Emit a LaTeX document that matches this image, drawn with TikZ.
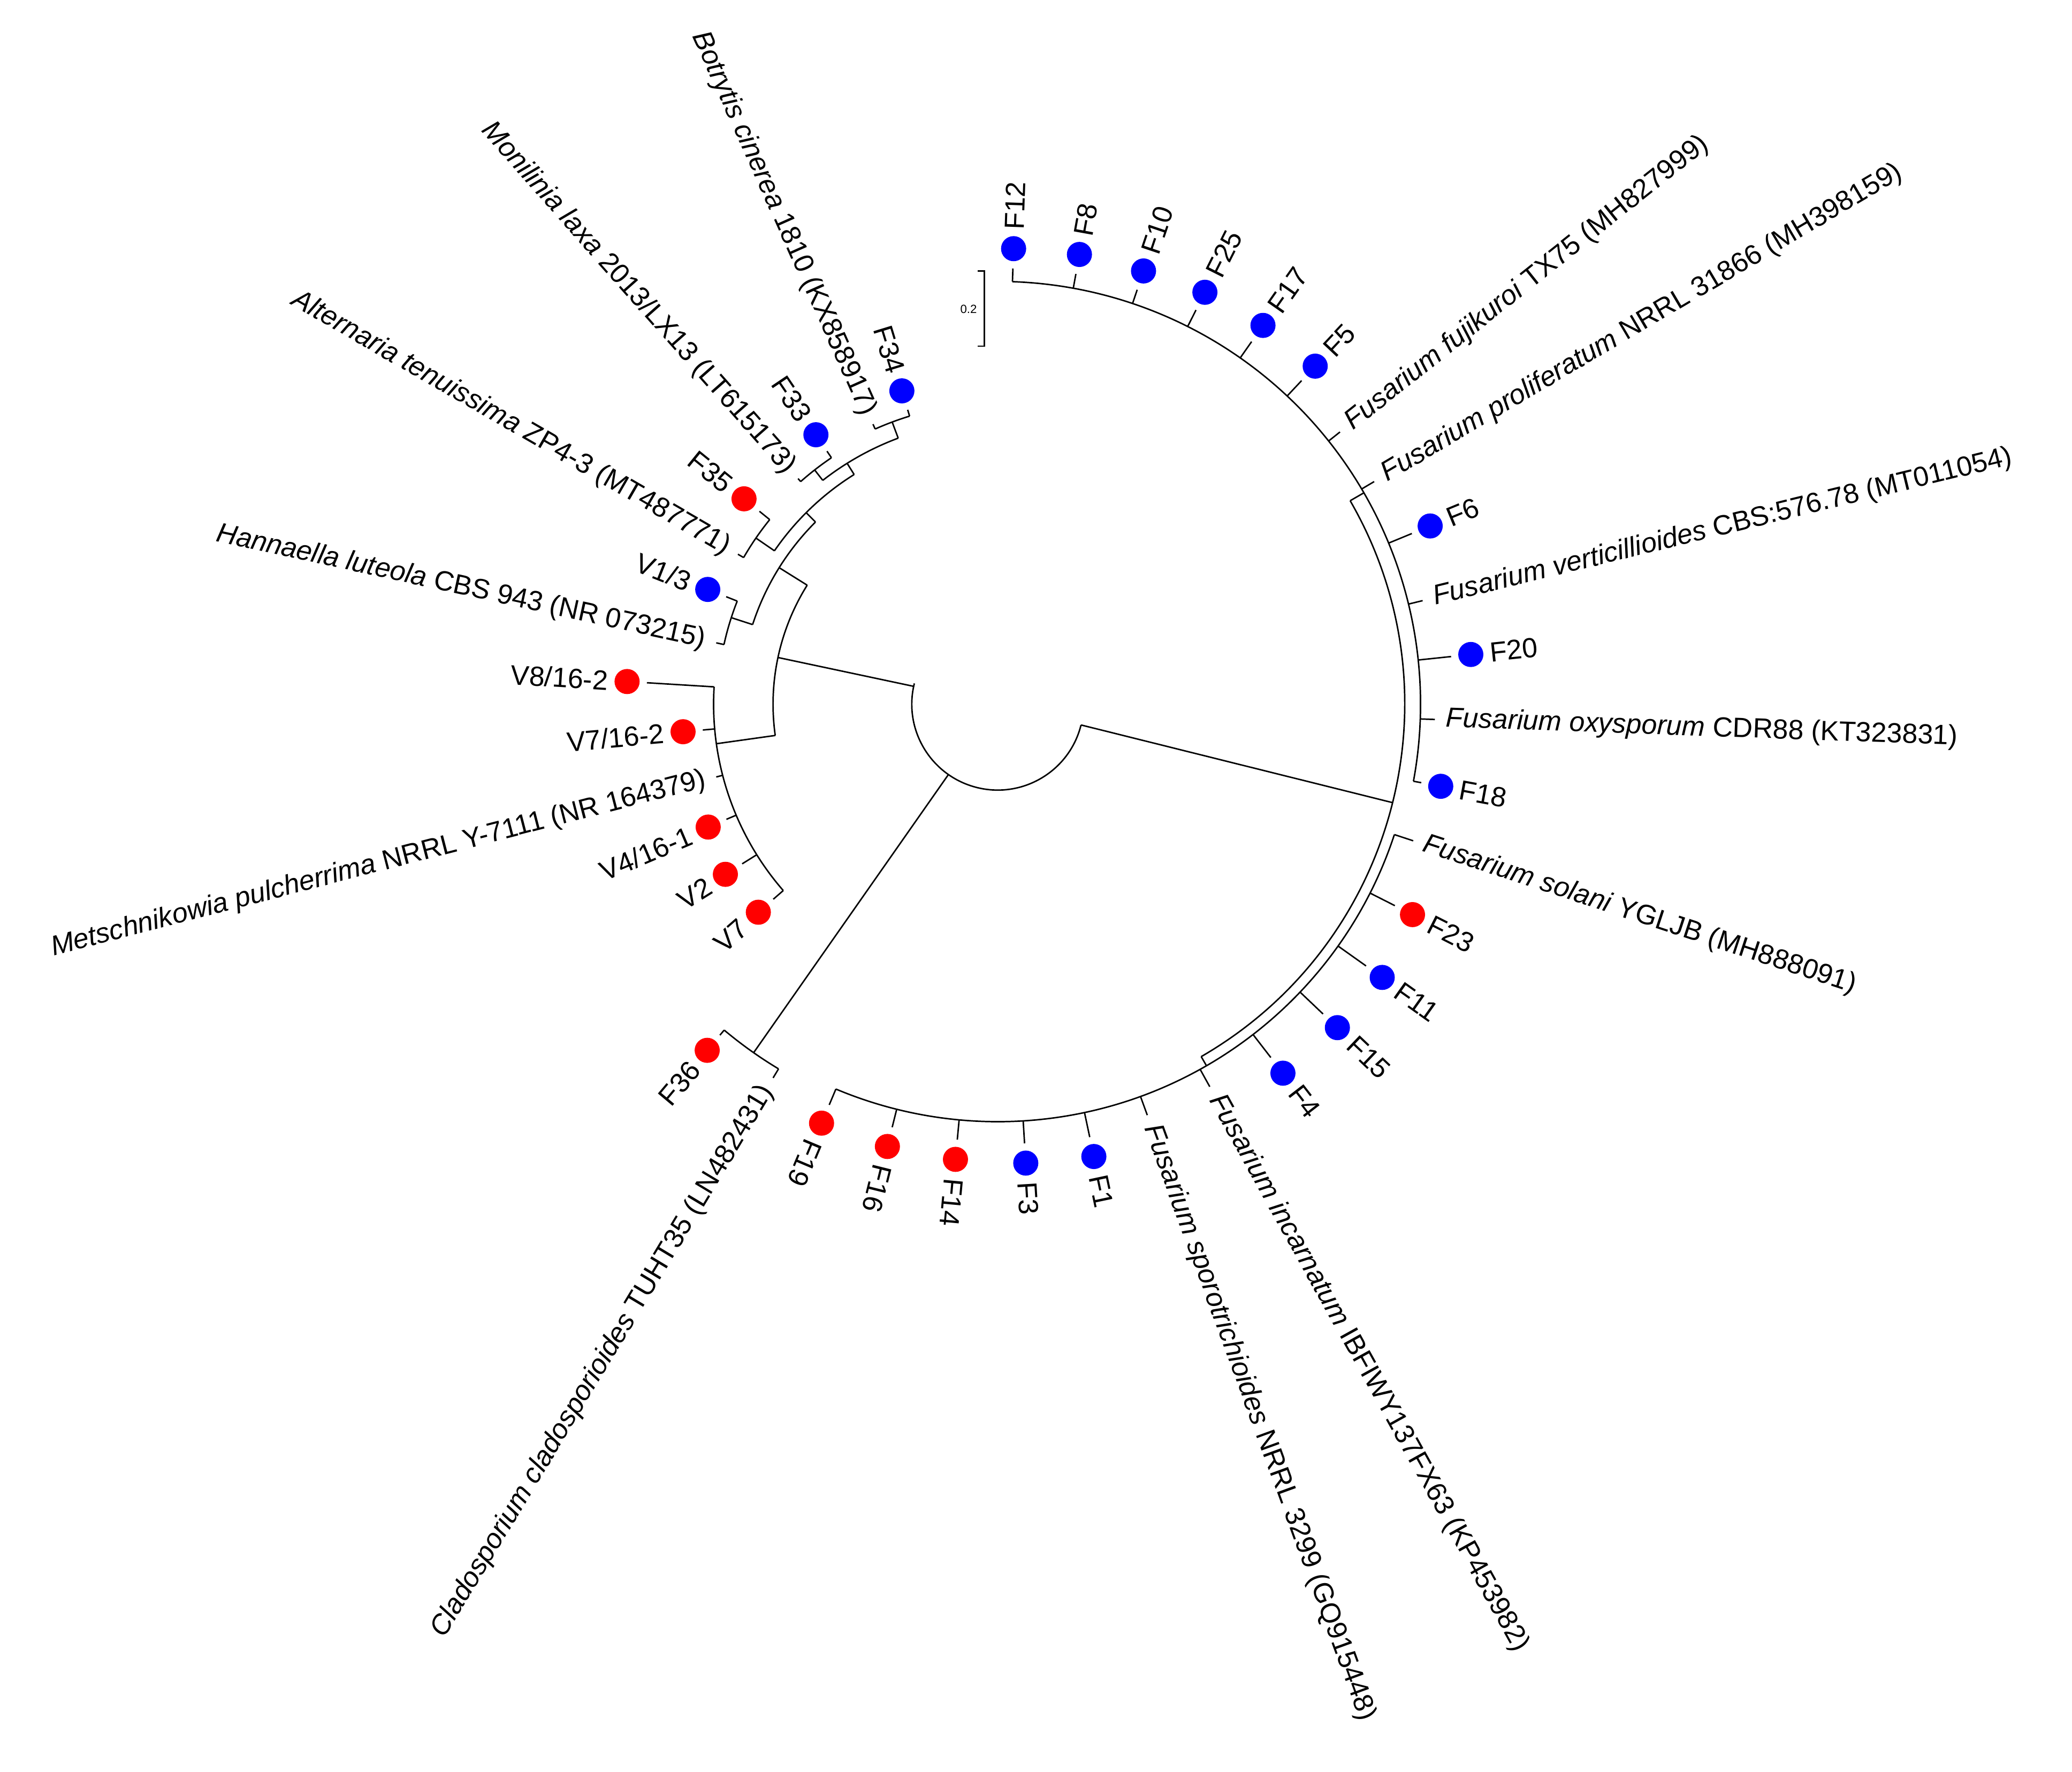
\documentclass[tikz,border=0pt]{standalone}
\usepackage{fontspec}
\setmainfont{Liberation Sans}
\newcommand\br[3]{\draw (#1:#2) -- (#1:#3);}
\newcommand\ar[3]{\draw (#1:#3) arc[start angle=#1, end angle=#2, radius=#3];}
\tikzset{
  dotnode/.style={circle,inner sep=0pt,minimum size=19pt},
  lab/.style={font=\fontsize{21}{25}\selectfont,inner sep=2pt},
}
\begin{document}
\begin{tikzpicture}[x=1pt,y=-1pt,line width=1.1pt]
\useasboundingbox (0,0) rectangle (1568,1341);
\fill[white] (0,0) rectangle (1568,1341);
% scale bar
\draw (740,205) -- (745,205) -- (745,262) -- (740,262);
\node[font=\fontsize{9}{10}\selectfont] (sb) at (733,234) {0.2};
\begin{scope}[shift={(755,533)}]
% root
\ar{194}{14}{65}
% Fusarium clade
\br{14}{65}{308}
\ar{-30}{60}{308}
\br{-30}{308}{320}
\ar{-88}{10.5}{320}
\foreach \a/\r in {-88/330,-79.7/331,-71.4/331,-63.3/334,-55/335,-46.8/336,-38.5/331,-30.6/331,-22.4/339,-13.7/331,-6/345,2/331,10.5/326}{\br{\a}{320}{\r}}
\br{60}{308}{316}
\ar{18.2}{112.8}{316}
\foreach \a/\r in {18.2/331,26.9/337,35.4/342,43.6/340,52.3/338,61/331,70/331,78/335,86.5/333,95.3/331,104/330,112.8/329}{\br{\a}{316}{\r}}
% Cladosporium
\br{125}{65}{322}
\ar{121}{130}{322}
\br{121}{322}{330}
\br{130}{322}{327}
% left group
\br{192}{65}{170}
\ar{172}{212}{170}
\br{172}{170}{215}
\ar{139}{183.5}{215}
\foreach \a/\r in {139/225,148/228,157/223,165.5/220,175/224,183.5/266}{\br{\a}{215}{\r}}
\br{212}{170}{195}
\ar{198}{225}{195}
\br{198}{195}{212}
\ar{192.3}{201.6}{212}
\br{192.3}{212}{218}
\br{201.6}{212}{221}
\br{225}{195}{205}
\ar{214.5}{238}{205}
\br{214.5}{205}{222}
\ar{210}{219}{222}
\br{210}{222}{227}
\br{219}{222}{232}
\br{238}{205}{215}
\ar{232}{249.5}{215}
\br{232}{215}{225}
\ar{228.5}{236}{225}
\br{228.5}{225}{228}
\br{236}{225}{231}
\br{249.5}{215}{228}
\ar{246}{253}{228}
\br{246}{228}{232}
\br{253}{228}{233}
% dots, right-reading labels
\foreach \a/\r/\c/\n in {-88/345/blue/F12,-79.7/346/blue/F8,-71.4/346/blue/F10,-63.3/349/blue/F25,-55/350/blue/F17,-46.8/351/blue/F5,-22.4/354/blue/F6,-6/360/blue/F20,10.5/341/blue/F18,26.9/352/red/F23,35.4/357/blue/F11,43.6/355/blue/F15,52.3/353/blue/F4,78/350/blue/F1,86.5/348/blue/F3,95.3/346/red/F14,104/345/red/F16,112.8/344/red/F19}{
  \node[dotnode,fill=\c] (d\n) at (\a:\r) {};
  \pgfmathsetmacro\rr{\r+12}
  \pgfmathsetmacro\rot{-\a}
  \node[lab,anchor=west,rotate=\rot] (t\n) at (\a:\rr) {\n};
}
% dots, flipped labels
\foreach \a/\r/\c/\n in {130/342/red/{F36},139/240/red/{V7},148/243/red/{V2},157/238/red/{V4/16-1},175/239/red/{V7/16-2},183.5/281/red/{V8/16-2},201.6/236/blue/{V1/3},219/247/red/{F35},236/246/blue/{F33},253/248/blue/{F34}}{
  \node[dotnode,fill=\c] at (\a:\r) {};
  \pgfmathsetmacro\rr{\r+12}
  \pgfmathsetmacro\rot{180-\a}
  \node[lab,anchor=east,rotate=\rot] at (\a:\rr) {\n};
}
% species labels
\node[lab,anchor=west,rotate=38.5] (s1) at (-38.5:337) {\textit{Fusarium fujikuroi} TX75 (MH827999)};
\node[lab,anchor=west,rotate=30.6] (s2) at (-30.6:337) {\textit{Fusarium proliferatum} NRRL 31866 (MH398159)};
\node[lab,anchor=west,rotate=13.7] (s3) at (-13.7:337) {\textit{Fusarium verticillioides} CBS:576.78 (MT011054)};
\node[lab,anchor=west,rotate=-2] (s4) at (2:337) {\textit{Fusarium oxysporum} CDR88 (KT323831)};
\node[lab,anchor=west,rotate=-18.2] (s5) at (18.2:337) {\textit{Fusarium solani} YGLJB (MH888091)};
\node[lab,anchor=west,rotate=-61] (s6) at (61:337) {\textit{Fusarium incarnatum} IBFIWY137FX63 (KP453982)};
\node[lab,anchor=west,rotate=-70] (s7) at (70:337) {\textit{Fusarium sporotrichioides} NRRL 3299 (GQ915448)};
\node[lab,anchor=east,rotate=59] (s8) at (121:336) {\textit{Cladosporium cladosporioides} TUHT35 (LN482431)};
\node[lab,anchor=east,rotate=14.5] (s9) at (165.5:226) {\textit{Metschnikowia pulcherrima} NRRL Y-7111 (NR 164379)};
\node[lab,anchor=east,rotate=-12.3] (s10) at (192.3:224) {\textit{Hannaella luteola} CBS 943 (NR 073215)};
\node[lab,anchor=east,rotate=-30] (s11) at (210:233) {\textit{Alternaria tenuissima} ZP4-3 (MT487771)};
\node[lab,anchor=east,rotate=-48.5] (s12) at (228.5:234) {\textit{Monilinia laxa} 2013/LX13 (LT615173)};
\node[lab,anchor=east,rotate=-66] (s13) at (246:238) {\textit{Botrytis cinerea} 1810 (KX858917)};
\end{scope}
\end{tikzpicture}
\end{document}
